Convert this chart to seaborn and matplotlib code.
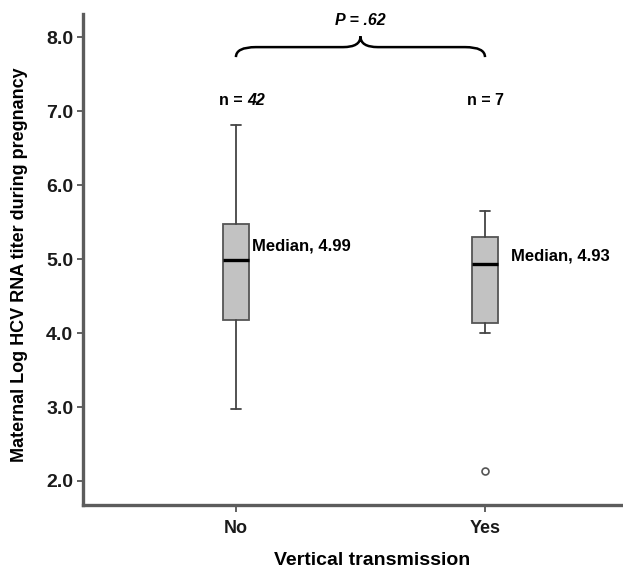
import matplotlib
matplotlib.use("Agg")
import matplotlib.pyplot as plt
from matplotlib.path import Path
from matplotlib.patches import PathPatch
import seaborn as sns

# summary statistics
groups = ["No", "Yes"]
q1 = [4.18, 4.14]
medians = [4.99, 4.93]
q3 = [5.47, 5.30]
whisker_low = [2.97, 4.00]
whisker_high = [6.81, 5.65]
outliers = [[], [2.14]]
n_obs = [42, 7]
p_value = ".62"

sns.set_style("ticks")
plt.rcParams['font.family'] = ['Liberation Sans', 'DejaVu Sans']
plt.rcParams['font.weight'] = 'bold'
plt.rcParams['text.color'] = 'black'
plt.rcParams['axes.labelcolor'] = 'black'

fig = plt.figure(figsize=(6.23, 5.68), dpi=100)
ax = fig.add_axes([0.1332, 0.111, 0.928, 0.864])

stats = []
for i, g in enumerate(groups):
    stats.append(dict(label=g, q1=q1[i], med=medians[i], q3=q3[i],
                      whislo=whisker_low[i], whishi=whisker_high[i], fliers=outliers[i]))

ax.bxp(stats, positions=range(len(groups)), widths=0.104, capwidths=0.04,
       patch_artist=True,
       boxprops=dict(facecolor='#c2c2c2', edgecolor='#555555', linewidth=1.3),
       medianprops=dict(color='black', linewidth=2.4),
       whiskerprops=dict(color='#444444', linewidth=1.3),
       capprops=dict(color='#444444', linewidth=1.3),
       flierprops=dict(marker='o', markersize=5, markerfacecolor='white',
                       markeredgecolor='#555555', markeredgewidth=1.2))

ax.set_xlim(-0.614, 1.707)
ax.set_ylim(1.676, 8.31)
ax.set_yticks([2, 3, 4, 5, 6, 7, 8])
ax.set_yticklabels([f"{v:.1f}" for v in [2, 3, 4, 5, 6, 7, 8]])
ax.set_xticks(range(len(groups)))
ax.set_xticklabels(groups)
ax.tick_params(axis='y', labelsize=14, length=4, width=1.3, color='#555555', pad=3)
ax.tick_params(axis='x', labelsize=13, length=5, width=1.3, color='#555555', pad=6)
for lab in ax.get_xticklabels() + ax.get_yticklabels():
    lab.set_fontweight('bold')
    lab.set_color('#1a1a1a')

sns.despine(ax=ax)
for side in ['left', 'bottom']:
    ax.spines[side].set_linewidth(2.4)
    ax.spines[side].set_color('#5c5c5c')

ax.set_ylabel("Maternal Log HCV RNA titer during pregnancy", fontsize=13,
              fontweight='bold')
ax.set_xlabel("Vertical transmission", fontsize=14, fontweight='bold')
ax.yaxis.set_label_coords(-0.095, 0.49)
ax.xaxis.set_label_coords(0.5, -0.095)

# n labels
ax.text(0.044, 7.15, "n = ", ha='right', va='center', fontsize=11.5, fontweight='bold')
ax.text(0.044, 7.15, str(n_obs[0]), ha='left', va='center', fontsize=11.5,
        fontweight='bold', style='italic')
ax.text(1.0, 7.15, f"n = {n_obs[1]}", ha='center', va='center', fontsize=11.5,
        fontweight='bold')

# median labels
ax.text(0.066, 5.17, f"Median, {medians[0]:.2f}", ha='left', va='center',
        fontsize=12, fontweight='bold')
ax.text(1.106, 5.04, f"Median, {medians[1]:.2f}", ha='left', va='center',
        fontsize=12, fontweight='bold')

# curly brace between groups
yb, yh, yt = 7.73, 7.865, 8.01
verts = [(0, yb), (0, yh), (0.08, yh), (0.43, yh), (0.5, yh), (0.5, yt),
         (0.5, yh), (0.57, yh), (0.92, yh), (1, yh), (1, yb)]
codes = [Path.MOVETO, Path.CURVE3, Path.CURVE3, Path.LINETO, Path.CURVE3, Path.CURVE3,
         Path.CURVE3, Path.CURVE3, Path.LINETO, Path.CURVE3, Path.CURVE3]
ax.add_patch(PathPatch(Path(verts, codes), facecolor='none', edgecolor='black',
                       linewidth=1.8, clip_on=False))
ax.text(0.5, 8.22, f"P = {p_value}", ha='center', va='center', fontsize=11.5,
        fontweight='bold', style='italic')

fig.savefig("out.png", dpi=100)
